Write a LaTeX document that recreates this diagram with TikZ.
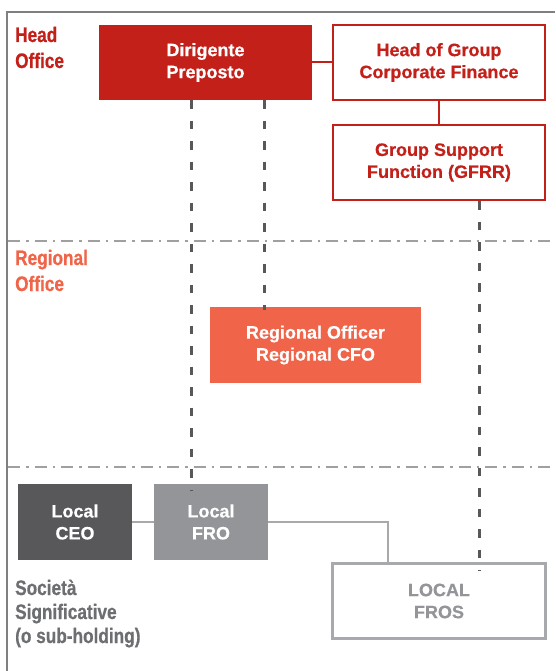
\documentclass[tikz,border=0pt]{standalone}
\usepackage{fontspec}
\setmainfont{Liberation Sans}
\newfontfamily\condfont[FakeStretch=0.82, FakeBold=0.6]{Liberation Sans Bold}
\newfontfamily\boxfont[FakeBold=0.4]{Liberation Sans Bold}
\definecolor{hored}{HTML}{C4201A}
\definecolor{regred}{HTML}{F0644A}
\definecolor{ceogray}{HTML}{58585A}
\definecolor{frogray}{HTML}{939598}
\definecolor{labgray}{HTML}{6D6E71}
\definecolor{linegray}{HTML}{A7A9AC}
\definecolor{framegray}{HTML}{808080}
\definecolor{dashgray}{HTML}{A0A0A0}
\tikzset{
  box/.style={rectangle, inner sep=0pt, align=center, font=\boxfont\fontsize{18}{22}\selectfont},
  filledbox/.style={box, text=white},
  lab/.style={anchor=base west, inner sep=0pt, font=\condfont\fontsize{21}{25}\selectfont},
  redline/.style={draw=hored, line width=2pt},
  grayline/.style={draw=linegray, line width=2pt},
  vdash/.style={draw=ceogray, line width=3pt, dash pattern=on 8.5pt off 12pt},
  sepline/.style={draw=dashgray, line width=1.5pt, dash pattern=on 12pt off 6pt on 2.5pt off 6pt},
}
\begin{document}
\begin{tikzpicture}[x=1pt,y=-1pt]
\useasboundingbox (0,0) rectangle (555,671);
% frame
\coordinate (fbl) at (7,671);
\coordinate (ftl) at (7,12);
\coordinate (ftr) at (555,12);
\draw[framegray, line width=2.5pt] (fbl) -- (ftl) -- (ftr);
% separators
\coordinate (s1a) at (8,241);
\coordinate (s1b) at (555,241);
\coordinate (s2a) at (8,467);
\coordinate (s2b) at (555,467);
\draw[sepline] (s1a) -- (s1b);
\draw[sepline] (s2a) -- (s2b);
% labels
\node[lab, text=hored] (l1) at (15,42) {Head};
\node[lab, text=hored] (l2) at (15,68) {Office};
\node[lab, text=regred] (l3) at (15,265) {Regional};
\node[lab, text=regred] (l4) at (15,291) {Office};
\node[lab, text=labgray] (l5) at (15,595) {Società};
\node[lab, text=labgray] (l6) at (15,619) {Significative};
\node[lab, text=labgray] (l7) at (15,643) {(o sub-holding)};
% boxes
\node[filledbox, fill=hored, minimum width=213pt, minimum height=75pt] (dp) at (205.5,62.5) {Dirigente\\Preposto};
\node[box, draw=hored, line width=2.2pt, text=hored, fill=white, minimum width=212pt, minimum height=75pt] (hgcf) at (439,62.5) {Head of Group\\Corporate Finance};
\node[box, draw=hored, line width=2.2pt, text=hored, fill=white, minimum width=212pt, minimum height=75pt] (gsf) at (439,162.5) {Group Support\\Function (GFRR)};
\node[filledbox, fill=regred, minimum width=211pt, minimum height=76pt] (reg) at (315.5,345) {Regional Officer\\Regional CFO};
\node[filledbox, fill=ceogray, minimum width=114pt, minimum height=76pt] (lceo) at (75,522) {Local\\CEO};
\node[filledbox, fill=frogray, minimum width=114pt, minimum height=76pt] (lfro) at (211,522) {Local\\FRO};
\node[box, draw=linegray, line width=2.2pt, text=frogray, fill=white, minimum width=213pt, minimum height=75pt] (lfros) at (439,601) {LOCAL\\FROS};
% connectors
\draw[redline] (dp) -- (hgcf);
\draw[redline] (hgcf) -- (gsf);
\draw[vdash] ([xshift=-14.5pt]dp.south) -- ([xshift=-20pt,yshift=-7pt]lfro.north);
\draw[vdash] ([xshift=58.5pt]dp.south) -- ([xshift=-51.5pt,yshift=-3pt]reg.north);
\draw[vdash] ([xshift=40pt]gsf.south) -- ([xshift=40pt,yshift=-8pt]lfros.north);
\draw[grayline] (lceo) -- (lfro);
\draw[grayline] (lfro.east) -| ([xshift=-51pt]lfros.north);
\end{tikzpicture}
\end{document}
